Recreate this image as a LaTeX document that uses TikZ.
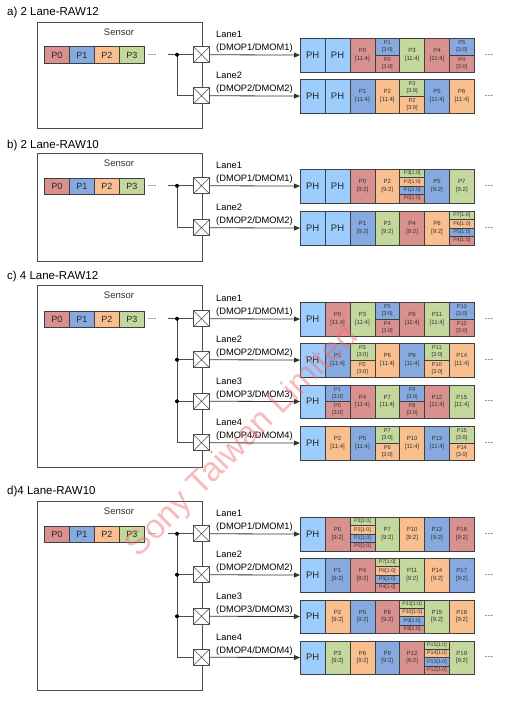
\documentclass[tikz,border=0pt]{standalone}
\usepackage{fontspec}
\setmainfont{Liberation Sans}
\usetikzlibrary{arrows.meta}
\definecolor{cR}{HTML}{D9918F}
\definecolor{cB}{HTML}{86AADF}
\definecolor{cO}{HTML}{F9BF8F}
\definecolor{cG}{HTML}{C4D79D}
\definecolor{cPH}{HTML}{9DCDFD}
\definecolor{cline}{HTML}{3F3F3F}
\definecolor{ctext}{HTML}{333333}
\definecolor{cwire}{HTML}{4D4D4D}
\definecolor{cwm}{HTML}{F26A6A}
\newcommand\cw{24.85}
\newcommand\mkRow[2]{\def\rn{#1}\def\ry{#2}}
\newcommand\mkPH[1]{\node[cell,fill=cPH,font=\fontsize{9.5}{10}\selectfont,text=black!85] (\rn-#1) at (300+#1*\cw,\ry) {PH};}
\newcommand\mkF[4]{\node[cell,fill=#2] (\rn-#1) at (300+#1*\cw,\ry) {#3\\{}[#4]};}
\newcommand\mkH[5]{\node[hcell,fill=#2] (\rn-#1t) at (300+#1*\cw,\ry) {#3\\{}[3:0]};\node[hcell,fill=#4] (\rn-#1b) at (300+#1*\cw,\ry+16.75) {#5\\{}[3:0]};}
\newcommand\mkQ[9]{\node[qcell,fill=#2] (\rn-#1a) at (300+#1*\cw,\ry) {#3[1:0]};\node[qcell,fill=#4] (\rn-#1b) at (300+#1*\cw,\ry+8.375) {#5[1:0]};\node[qcell,fill=#6] (\rn-#1c) at (300+#1*\cw,\ry+16.75) {#7[1:0]};\node[qcell,fill=#8] (\rn-#1d) at (300+#1*\cw,\ry+25.125) {#9[1:0]};}
\newcommand\mkE{\node[dotsr] (\rn-e) at (489,\ry+16.75) {…};}
\newcommand\mkLane[3]{\node[xbox] (#1-x#2) at (201.5,#3) {};\node[lanelbl] (#1-l#2) at (216,#3-12.8) {Lane#2\\(DMOP#2/DMOM#2)};}
\newcommand\mkArrow[2]{\draw[arr] (#1-x#2.east) -- (#1#2-0.west);}
\newcommand\mkSensor[4]{%
\node[sbox,minimum height=#3pt] (#1-s) at (37,#2) {};
\node[slbl] (#1-sl) at (119,#2+10.5) {Sensor};
\node[pix,fill=cR] (#1-p0) at (44,#4-8.25) {P0};
\node[pix,fill=cB] (#1-p1) at (69,#4-8.25) {P1};
\node[pix,fill=cO] (#1-p2) at (94,#4-8.25) {P2};
\node[pix,fill=cG] (#1-p3) at (119,#4-8.25) {P3};
\node[dotsl] (#1-pd) at (152,#4) {…};
\coordinate (#1-s0) at (168,#4);
\coordinate (#1-j1) at (177,#4);}
\tikzset{
  cell/.style={draw=cline,line width=0.6pt,anchor=north west,minimum width=24.85pt,minimum height=33.5pt,inner sep=0pt,align=center,font=\fontsize{6}{7.3}\selectfont,text=ctext},
  hcell/.style={cell,minimum height=16.75pt,font=\fontsize{5.6}{7}\selectfont},
  qcell/.style={cell,minimum height=8.375pt,font=\fontsize{5.3}{5.5}\selectfont},
  pix/.style={cell,minimum width=25pt,minimum height=16.5pt,font=\fontsize{9}{10}\selectfont,text=black!85},
  sbox/.style={draw=cwire,line width=0.8pt,anchor=north west,minimum width=164.5pt,inner sep=0pt},
  slbl/.style={font=\fontsize{9.5}{10}\selectfont,text=black!80,inner sep=0pt},
  dotsl/.style={font=\fontsize{9}{10}\selectfont,inner sep=0pt},
  dotsr/.style={font=\fontsize{9}{10}\selectfont,inner sep=0pt},
  titl/.style={font=\fontsize{11.5}{12}\selectfont,anchor=west,inner sep=0pt},
  lanelbl/.style={font=\fontsize{9.3}{13}\selectfont,align=left,anchor=west,inner sep=0pt},
  xbox/.style={draw=cwire,fill=white,line width=0.7pt,minimum size=16pt,inner sep=0pt,
    path picture={\draw[cwire,line width=0.6pt] (path picture bounding box.south west) -- (path picture bounding box.north east) (path picture bounding box.north west) -- (path picture bounding box.south east);}},
  wire/.style={draw=cwire,line width=0.8pt},
  arr/.style={draw=black!80,line width=0.8pt,-{Triangle[length=6pt,width=5pt]}},
  jdot/.style={fill=black},
  wm/.style={rotate=45,text=cwm,opacity=0.45,font=\fontsize{34}{34}\selectfont,inner sep=0pt}
}
\begin{document}
\begin{tikzpicture}[x=1pt,y=-1pt]
\useasboundingbox[fill=white] (0,0) rectangle (508,701);
% ---------------- a)
\node[titl] (ta) at (7,13) {a) 2 Lane-RAW12};
\mkSensor{a}{22}{106}{54.75}
\mkLane{a}{1}{54.75}
\mkLane{a}{2}{95.75}
\draw[wire] (a-s0) -- (a-x1.west);
\draw[wire] (a-j1) |- (a-x2.west);
\fill[jdot] (a-j1) circle (2pt);
\mkRow{a1}{38}\mkPH{0}\mkPH{1}\mkF{2}{cR}{P0}{11:4}\mkH{3}{cB}{P1}{cR}{P0}\mkF{4}{cG}{P3}{11:4}\mkF{5}{cR}{P4}{11:4}\mkH{6}{cB}{P5}{cR}{P4}\mkE
\mkRow{a2}{79}\mkPH{0}\mkPH{1}\mkF{2}{cB}{P1}{11:4}\mkF{3}{cO}{P2}{11:4}\mkH{4}{cG}{P3}{cO}{P2}\mkF{5}{cB}{P5}{11:4}\mkF{6}{cO}{P6}{11:4}\mkE
\mkArrow{a}{1}\mkArrow{a}{2}
% ---------------- b)
\node[titl] (tb) at (7,146) {b) 2 Lane-RAW10};
\mkSensor{b}{153}{108}{185.75}
\mkLane{b}{1}{185.75}
\mkLane{b}{2}{227.75}
\draw[wire] (b-s0) -- (b-x1.west);
\draw[wire] (b-j1) |- (b-x2.west);
\fill[jdot] (b-j1) circle (2pt);
\mkRow{b1}{169}\mkPH{0}\mkPH{1}\mkF{2}{cR}{P0}{9:2}\mkF{3}{cO}{P2}{9:2}\mkQ{4}{cG}{P3}{cO}{P2}{cB}{P1}{cR}{P0}\mkF{5}{cB}{P5}{9:2}\mkF{6}{cG}{P7}{9:2}\mkE
\mkRow{b2}{211}\mkPH{0}\mkPH{1}\mkF{2}{cB}{P1}{9:2}\mkF{3}{cG}{P3}{9:2}\mkF{4}{cR}{P4}{9:2}\mkF{5}{cO}{P6}{9:2}\mkQ{6}{cG}{P7}{cO}{P6}{cB}{P5}{cR}{P4}\mkE
\mkArrow{b}{1}\mkArrow{b}{2}
% ---------------- c)
\node[titl] (tc) at (7,277) {c) 4 Lane-RAW12};
\mkSensor{c}{285}{182}{318.75}
\mkLane{c}{1}{318.75}
\mkLane{c}{2}{359.75}
\mkLane{c}{3}{401.25}
\mkLane{c}{4}{442.75}
\coordinate (c-j2) at (c-j1 |- c-x2.west);
\coordinate (c-j3) at (c-j1 |- c-x3.west);
\draw[wire] (c-s0) -- (c-x1.west);
\draw[wire] (c-j1) |- (c-x4.west);
\draw[wire] (c-j2) -- (c-x2.west);
\draw[wire] (c-j3) -- (c-x3.west);
\fill[jdot] (c-j1) circle (2pt) (c-j2) circle (2pt) (c-j3) circle (2pt);
\mkRow{c1}{302}\mkPH{0}\mkF{1}{cR}{P0}{11:4}\mkF{2}{cG}{P3}{11:4}\mkH{3}{cB}{P5}{cR}{P4}\mkF{4}{cR}{P8}{11:4}\mkF{5}{cG}{P11}{11:4}\mkH{6}{cB}{P13}{cR}{P12}\mkE
\mkRow{c2}{343}\mkPH{0}\mkF{1}{cB}{P1}{11:4}\mkH{2}{cG}{P3}{cO}{P2}\mkF{3}{cO}{P6}{11:4}\mkF{4}{cB}{P9}{11:4}\mkH{5}{cG}{P11}{cO}{P10}\mkF{6}{cO}{P14}{11:4}\mkE
\mkRow{c3}{384.5}\mkPH{0}\mkH{1}{cB}{P1}{cR}{P0}\mkF{2}{cR}{P4}{11:4}\mkF{3}{cG}{P7}{11:4}\mkH{4}{cB}{P9}{cR}{P8}\mkF{5}{cR}{P12}{11:4}\mkF{6}{cG}{P15}{11:4}\mkE
\mkRow{c4}{426}\mkPH{0}\mkF{1}{cO}{P2}{11:4}\mkF{2}{cB}{P5}{11:4}\mkH{3}{cG}{P7}{cO}{P6}\mkF{4}{cO}{P10}{11:4}\mkF{5}{cB}{P13}{11:4}\mkH{6}{cG}{P15}{cO}{P14}\mkE
\mkArrow{c}{1}\mkArrow{c}{2}\mkArrow{c}{3}\mkArrow{c}{4}
% ---------------- d)
\node[titl] (td) at (7,492) {d)4 Lane-RAW10};
\mkSensor{d}{501}{189}{533.75}
\mkLane{d}{1}{533.75}
\mkLane{d}{2}{574.75}
\mkLane{d}{3}{616.25}
\mkLane{d}{4}{657.25}
\coordinate (d-j2) at (d-j1 |- d-x2.west);
\coordinate (d-j3) at (d-j1 |- d-x3.west);
\draw[wire] (d-s0) -- (d-x1.west);
\draw[wire] (d-j1) |- (d-x4.west);
\draw[wire] (d-j2) -- (d-x2.west);
\draw[wire] (d-j3) -- (d-x3.west);
\fill[jdot] (d-j1) circle (2pt) (d-j2) circle (2pt) (d-j3) circle (2pt);
\mkRow{d1}{517}\mkPH{0}\mkF{1}{cR}{P0}{9:2}\mkQ{2}{cG}{P3}{cO}{P2}{cB}{P1}{cR}{P0}\mkF{3}{cG}{P7}{9:2}\mkF{4}{cO}{P10}{9:2}\mkF{5}{cB}{P13}{9:2}\mkF{6}{cR}{P16}{9:2}\mkE
\mkRow{d2}{558}\mkPH{0}\mkF{1}{cB}{P1}{9:2}\mkF{2}{cR}{P4}{9:2}\mkQ{3}{cG}{P7}{cO}{P6}{cB}{P5}{cR}{P4}\mkF{4}{cG}{P11}{9:2}\mkF{5}{cO}{P14}{9:2}\mkF{6}{cB}{P17}{9:2}\mkE
\mkRow{d3}{599.5}\mkPH{0}\mkF{1}{cO}{P2}{9:2}\mkF{2}{cB}{P5}{9:2}\mkF{3}{cR}{P8}{9:2}\mkQ{4}{cG}{P11}{cO}{P10}{cB}{P9}{cR}{P8}\mkF{5}{cG}{P15}{9:2}\mkF{6}{cO}{P18}{9:2}\mkE
\mkRow{d4}{640.5}\mkPH{0}\mkF{1}{cG}{P3}{9:2}\mkF{2}{cO}{P6}{9:2}\mkF{3}{cB}{P9}{9:2}\mkF{4}{cR}{P12}{9:2}\mkQ{5}{cG}{P15}{cO}{P14}{cB}{P13}{cR}{P12}\mkF{6}{cG}{P19}{9:2}\mkE
\mkArrow{d}{1}\mkArrow{d}{2}\mkArrow{d}{3}\mkArrow{d}{4}
% watermark
\node[wm] (wm) at (243,442) {Sony Taiwan Limited};
\end{tikzpicture}
\end{document}
